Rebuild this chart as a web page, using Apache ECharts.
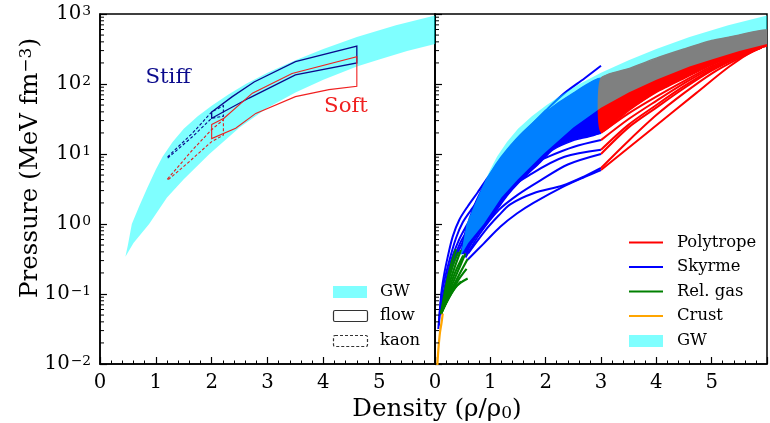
<!DOCTYPE html>
<html>
<head>
<meta charset="utf-8">
<script src="https://cdn.jsdelivr.net/npm/echarts@6/dist/echarts.min.js"></script>
<style>
  html, body { margin: 0; padding: 0; background: #fff; }
  #chart { width: 770px; height: 423px; }
</style>
</head>
<body>
<div id="chart"></div>
<script>
// Density in units of rho0, pressure in MeV fm^-3.
const FONT = "'DejaVu Serif', serif";
const xTickLabels = ['0', '1', '2', '3', '4', '5'];
const yMinorTicks = [
  0.02, 0.03, 0.04, 0.05, 0.06, 0.07, 0.08, 0.09,
  0.2, 0.3, 0.4, 0.5, 0.6, 0.7, 0.8, 0.9,
  2, 3, 4, 5, 6, 7, 8, 9,
  20, 30, 40, 50, 60, 70, 80, 90,
  200, 300, 400, 500, 600, 700, 800, 900
];

// GW170817 pressure band (upper / lower edge)
const gwUpper = [[0.455, 0.34], [0.5, 0.5], [0.57, 1.0], [0.7, 1.78], [0.85, 3.31], [1.0, 6.03], [1.12, 9.12],
  [1.3, 14.8], [1.5, 22.9], [1.75, 34.7], [2.0, 49], [2.3, 70.8], [2.61, 100], [3.0, 145], [3.5, 219],
  [4.0, 316], [4.6, 468], [5.3, 692], [6.0, 955]];
const gwLower = [[0.455, 0.34], [0.6, 0.537], [0.88, 1.0], [1.2, 2.4], [1.5, 4.37], [1.96, 10], [2.5, 24],
  [3.0, 45.7], [3.5, 75.9], [4.0, 115], [4.6, 178], [5.0, 224], [5.5, 295], [6.0, 372]];

// Heavy-ion flow constraints (solid) and kaon production (dashed)
const flowStiffUpper = [[2.0, 39.8], [2.37, 66], [2.76, 107], [3.5, 209], [4.6, 347]];
const flowStiffLower = [[2.0, 32.4], [2.67, 63], [3.5, 135], [4.6, 200]];
const flowSoftUpper = [[2.0, 26.3], [2.22, 32.4], [2.73, 74], [3.44, 141], [4.6, 245]];
const flowSoftLower = [[2.0, 16.6], [2.43, 23.4], [2.79, 38], [3.5, 66], [4.1, 83], [4.6, 93]];
const kaonStiffUpper = [[1.21, 9.1], [1.66, 20], [2.0, 39.8], [2.21, 49]];
const kaonStiffLower = [[1.21, 8.7], [1.66, 17.8], [2.0, 32.4], [2.21, 34.7]];
const kaonSoftUpper = [[1.21, 4.4], [1.66, 11.5], [1.99, 21.9], [2.21, 30.9]];
const kaonSoftLower = [[1.21, 4.2], [1.6, 7.8], [1.99, 14.8], [2.21, 18.6]];

// Crust
const crust = [[0.04, 0.0089], [0.06, 0.0158], [0.09, 0.0282], [0.12, 0.0398], [0.14, 0.0525]];

// Relativistic gas
const relGas = [
  [[0.11, 0.0525], [0.2, 0.132], [0.3, 0.282], [0.38, 0.437]],
  [[0.11, 0.0525], [0.21, 0.12], [0.32, 0.251], [0.42, 0.398]],
  [[0.11, 0.0525], [0.22, 0.112], [0.35, 0.234], [0.47, 0.427]],
  [[0.11, 0.0525], [0.23, 0.105], [0.37, 0.209], [0.51, 0.355]],
  [[0.11, 0.0525], [0.24, 0.1], [0.4, 0.2], [0.55, 0.38]],
  [[0.11, 0.0525], [0.25, 0.0955], [0.42, 0.178], [0.59, 0.316]],
  [[0.11, 0.0525], [0.25, 0.0912], [0.42, 0.158], [0.57, 0.229]],
  [[0.11, 0.0525], [0.24, 0.0851], [0.4, 0.132], [0.59, 0.166]],
  [[0.11, 0.0525], [0.22, 0.0794], [0.35, 0.12], [0.47, 0.151]]
];

// Skyrme: densely packed family (edges) and separate curves
const skyrmeBandUpper = [[0.47, 0.38], [0.55, 0.794], [0.7, 1.78], [0.9, 3.8], [1.1, 7.08], [1.3, 11.5],
  [1.6, 20.9], [2.0, 39.8], [2.5, 74.1], [3.0, 120]];
const skyrmeBandLower = [[0.47, 0.38], [0.53, 0.38], [0.8, 0.759], [1.06, 1.38], [1.3, 2.51], [1.5, 3.8],
  [1.9, 7.59], [2.13, 11.5], [2.52, 15.8], [3.0, 20.9]];
const skyrme = [
  [[0.06, 0.0316], [0.09, 0.063], [0.12, 0.112], [0.17, 0.2], [0.23, 0.339], [0.32, 0.661], [0.44, 1.15],
   [0.59, 1.78], [0.77, 2.82], [0.95, 4.57], [1.15, 7.59], [1.4, 13.5], [1.75, 26.3], [2.0, 41.7],
   [2.34, 74.1], [2.7, 120], [3.0, 182]],
  [[0.07, 0.0355], [0.1, 0.0708], [0.13, 0.112], [0.25, 0.282], [0.38, 0.631], [0.5, 1.05], [0.65, 1.58],
   [0.85, 2.63], [1.1, 5.25], [1.3, 8.91]],
  [[0.1, 0.05], [0.15, 0.1], [0.28, 0.282], [0.42, 0.562], [0.55, 0.891], [0.7, 1.41], [0.9, 2.82], [1.1, 5.01]],
  [[0.1, 0.06], [0.16, 0.1], [0.3, 0.251], [0.45, 0.525], [0.6, 0.85], [0.8, 1.6], [1.0, 2.7]],
  [[0.12, 0.063], [0.2, 0.126], [0.35, 0.3], [0.5, 0.55], [0.7, 1.2], [0.9, 2.1]],
  [[0.59, 0.309], [0.88, 0.525], [1.18, 0.912], [1.48, 1.41], [1.78, 2.0], [2.31, 3.39], [2.7, 4.68], [3.0, 5.89]],
  [[0.6, 0.38], [0.9, 0.794], [1.15, 1.32], [1.36, 1.91], [1.78, 2.75], [2.31, 3.55], [2.7, 4.79], [3.0, 6.31]],
  [[0.55, 0.331], [0.8, 0.708], [1.15, 1.58], [1.5, 2.63], [1.9, 4.17], [2.4, 7.08], [3.0, 10]],
  [[0.55, 0.355], [0.8, 0.891], [1.15, 2.45], [1.75, 5.25], [2.34, 9.12], [3.0, 11.5]],
  [[0.55, 0.398], [0.8, 1.12], [1.15, 3.39], [1.6, 6.31], [2.04, 9.12], [2.5, 12.6], [3.0, 15.8]],
  [[0.55, 0.417], [0.8, 1.26], [1.15, 3.98], [1.6, 8.32], [2.04, 12.6], [2.5, 16.6], [3.0, 20]]
];

// Polytropes: densely packed family (edges) and separate curves
const polyBandUpper = [[3.0, 120], [3.5, 166], [4.0, 234], [4.5, 316], [5.0, 417], [5.5, 501], [6.0, 589]];
const polyBandLower = [[3.0, 20.9], [3.5, 41.7], [4.0, 75.9], [4.5, 120], [5.0, 186], [5.5, 269], [5.8, 324], [6.0, 355]];
const polytropes = [
  [[3.0, 5.89], [3.83, 20], [4.72, 74.1], [5.32, 178], [5.79, 309], [6.0, 355]],
  [[3.0, 6.31], [3.5, 15.5], [4.0, 36], [4.5, 74], [5.0, 141], [5.5, 234], [5.9, 331]],
  [[3.0, 10], [3.5, 24], [4.0, 46], [4.5, 87], [5.0, 155], [5.5, 245], [5.9, 331]],
  [[3.0, 11.5], [3.5, 26.3], [4.0, 50.1], [4.5, 93], [5.0, 162], [5.5, 251], [5.9, 331]],
  [[3.0, 15.8], [3.5, 31.6], [4.0, 57.5], [4.5, 102], [5.0, 170], [5.5, 257], [5.9, 331]],
  [[3.0, 20], [3.5, 38], [4.0, 66], [4.5, 110], [5.0, 178], [5.5, 263], [5.9, 331]]
];

// ---- helpers ----
function closedRing(upper, lower) {
  return upper.concat(lower.slice().reverse());
}

function polygonSeries(pts, grid, style, z, smooth) {
  return {
    type: 'custom', xAxisIndex: grid, yAxisIndex: grid, z: z, clip: true, silent: true,
    encode: { x: 0, y: 1 },
    data: pts,
    renderItem: function (params, api) {
      if (params.dataIndex !== 0) return;
      return {
        type: 'polygon',
        shape: { points: pts.map(function (p) { return api.coord(p); }), smooth: smooth || 0 },
        style: style
      };
    }
  };
}

function lineSeries(pts, grid, color, width, z) {
  return {
    type: 'line', xAxisIndex: grid, yAxisIndex: grid, z: z, data: pts, showSymbol: false,
    smooth: 0.3, silent: true, animation: false,
    lineStyle: { color: color, width: width }
  };
}

function minorTickSeries(grid) {
  return {
    type: 'custom', xAxisIndex: grid, yAxisIndex: grid, z: 20, silent: true, clip: false,
    encode: { x: 0, y: 1 },
    data: yMinorTicks.map(function (v) { return [0, v]; }),
    renderItem: function (params, api) {
      const p = api.coord([0, api.value(1)]);
      return { type: 'line', shape: { x1: p[0], y1: p[1], x2: p[0] + 4, y2: p[1] },
        style: { stroke: '#000', lineWidth: 1 } };
    }
  };
}

function xAxisFor(grid) {
  return {
    type: 'value', gridIndex: grid, min: 0, max: 6, interval: 1,
    axisLine: { show: true, lineStyle: { color: '#000', width: 1.5 } },
    axisTick: { show: true, inside: true, length: 7, lineStyle: { color: '#000', width: 1.2 } },
    minorTick: { show: true, splitNumber: 5, length: 3.5, lineStyle: { color: '#000', width: 1 } },
    splitLine: { show: false },
    axisLabel: {
      margin: 9, fontSize: 19.7, fontFamily: FONT, color: '#000',
      formatter: function (v) { return v < xTickLabels.length ? xTickLabels[v] : ''; }
    }
  };
}

function yAxisFor(grid, showLabels) {
  return {
    type: 'log', gridIndex: grid, logBase: 10, min: 0.01, max: 1000, splitNumber: 5,
    axisLine: { show: true, lineStyle: { color: '#000', width: 1.5 } },
    axisTick: { show: true, inside: true, length: 7, lineStyle: { color: '#000', width: 1.2 } },
    splitLine: { show: false },
    axisLabel: {
      show: showLabels, margin: 9, fontFamily: FONT, color: '#000',
      formatter: function (v) {
        const e = Math.round(Math.log10(v));
        return '{b|10}{s|' + (e < 0 ? '\u2212' + (-e) : e) + '}';
      },
      rich: {
        b: { fontSize: 19.7, fontFamily: FONT, color: '#000', verticalAlign: 'bottom' },
        s: { fontSize: 13.8, fontFamily: FONT, color: '#000', verticalAlign: 'top', padding: [0, 0, 0, 1] }
      }
    }
  };
}

const gwFill = 'rgba(0,255,255,0.5)';
const series = [];

// left panel
series.push(polygonSeries(closedRing(gwUpper, gwLower), 0, { fill: gwFill, stroke: null }, 2, 0));
series.push(polygonSeries(closedRing(flowStiffUpper, flowStiffLower), 0,
  { fill: null, stroke: '#0a0a8c', lineWidth: 1.3 }, 5));
series.push(polygonSeries(closedRing(flowSoftUpper, flowSoftLower), 0,
  { fill: null, stroke: '#f02020', lineWidth: 1.1 }, 5));
series.push(polygonSeries(closedRing(kaonStiffUpper, kaonStiffLower), 0,
  { fill: null, stroke: '#0a0a8c', lineWidth: 1.1, lineDash: [3, 2] }, 5));
series.push(polygonSeries(closedRing(kaonSoftUpper, kaonSoftLower), 0,
  { fill: null, stroke: '#e02020', lineWidth: 1.1, lineDash: [3, 2] }, 5));

// right panel
series.push(polygonSeries(closedRing(skyrmeBandUpper, skyrmeBandLower), 1,
  { fill: '#0000ff', stroke: '#0000ff', lineWidth: 1.5 }, 3, 0.2));
skyrme.forEach(function (c) { series.push(lineSeries(c, 1, '#0000ff', 2, 3)); });
series.push(polygonSeries(closedRing(polyBandUpper, polyBandLower), 1,
  { fill: '#ff0000', stroke: '#ff0000', lineWidth: 1.5 }, 3, 0.2));
polytropes.forEach(function (c) { series.push(lineSeries(c, 1, '#ff0000', 2, 3)); });
relGas.forEach(function (c) { series.push(lineSeries(c, 1, '#008000', 2.2, 4)); });
series.push(lineSeries(crust, 1, '#ffa500', 2.2, 4));
series.push(polygonSeries(closedRing(gwUpper, gwLower), 1, { fill: gwFill, stroke: null }, 6, 0));

series.push(minorTickSeries(0));
series.push(minorTickSeries(1));

function legendText(x, y, text) {
  return { type: 'text', x: x, y: y, z: 50,
    style: { text: text, fontFamily: FONT, fontSize: 16.4, fill: '#000', verticalAlign: 'middle' } };
}
function legendLine(y, color) {
  return { type: 'line', z: 50, shape: { x1: 629, y1: y, x2: 663, y2: y }, style: { stroke: color, lineWidth: 2 } };
}

const graphic = [
  // axis titles
  { type: 'text', x: 31, y: 168, rotation: Math.PI / 2, z: 50,
    style: { text: 'Pressure (MeV fm{s|\u22123})', fontFamily: FONT, fontSize: 24.6, fill: '#000',
      align: 'center', verticalAlign: 'middle',
      rich: { s: { fontFamily: FONT, fontSize: 17, fill: '#000', verticalAlign: 'top' } } } },
  { type: 'text', x: 437, y: 410, z: 50,
    style: { text: 'Density (\u03c1/\u03c1{u|0})', fontFamily: FONT, fontSize: 24.6, fill: '#000',
      align: 'center', verticalAlign: 'middle',
      rich: { u: { fontFamily: FONT, fontSize: 17, fill: '#000', verticalAlign: 'bottom' } } } },
  // annotations
  { type: 'text', x: 168, y: 77, z: 50,
    style: { text: 'Stiff', fontFamily: FONT, fontSize: 21.3, fill: '#0a0a8c', align: 'center', verticalAlign: 'middle' } },
  { type: 'text', x: 346, y: 106, z: 50,
    style: { text: 'Soft', fontFamily: FONT, fontSize: 21.3, fill: '#f02020', align: 'center', verticalAlign: 'middle' } },
  // left legend
  { type: 'rect', z: 50, shape: { x: 333, y: 286, width: 34, height: 12 }, style: { fill: gwFill } },
  legendText(380, 292, 'GW'),
  { type: 'rect', z: 50, shape: { x: 333.5, y: 310.5, width: 34, height: 11, r: 1.5 },
    style: { fill: null, stroke: '#333', lineWidth: 1.2 } },
  legendText(380, 316, 'flow'),
  { type: 'rect', z: 50, shape: { x: 333.5, y: 335.5, width: 34, height: 11, r: 1.5 },
    style: { fill: null, stroke: '#333', lineWidth: 1.2, lineDash: [3, 2] } },
  legendText(380, 341, 'kaon'),
  // right legend
  legendLine(242.5, '#ff0000'), legendText(677, 242.5, 'Polytrope'),
  legendLine(267, '#0000ff'), legendText(677, 267, 'Skyrme'),
  legendLine(291.5, '#008000'), legendText(677, 291.5, 'Rel. gas'),
  legendLine(316, '#ffa500'), legendText(677, 316, 'Crust'),
  { type: 'rect', z: 50, shape: { x: 629, y: 335, width: 34, height: 12 }, style: { fill: gwFill } },
  legendText(677, 341, 'GW')
];

const chart = echarts.init(document.getElementById('chart'), null, { renderer: 'canvas' });
chart.setOption({
  animation: false,
  backgroundColor: '#fff',
  grid: [
    { left: 100, top: 14, width: 335, height: 350, show: true, borderColor: '#000', borderWidth: 1.5 },
    { left: 435, top: 14, width: 336, height: 350, show: true, borderColor: '#000', borderWidth: 1.5 }
  ],
  xAxis: [xAxisFor(0), xAxisFor(1)],
  yAxis: [yAxisFor(0, true), yAxisFor(1, false)],
  series: series,
  graphic: graphic
});
</script>
</body>
</html>
